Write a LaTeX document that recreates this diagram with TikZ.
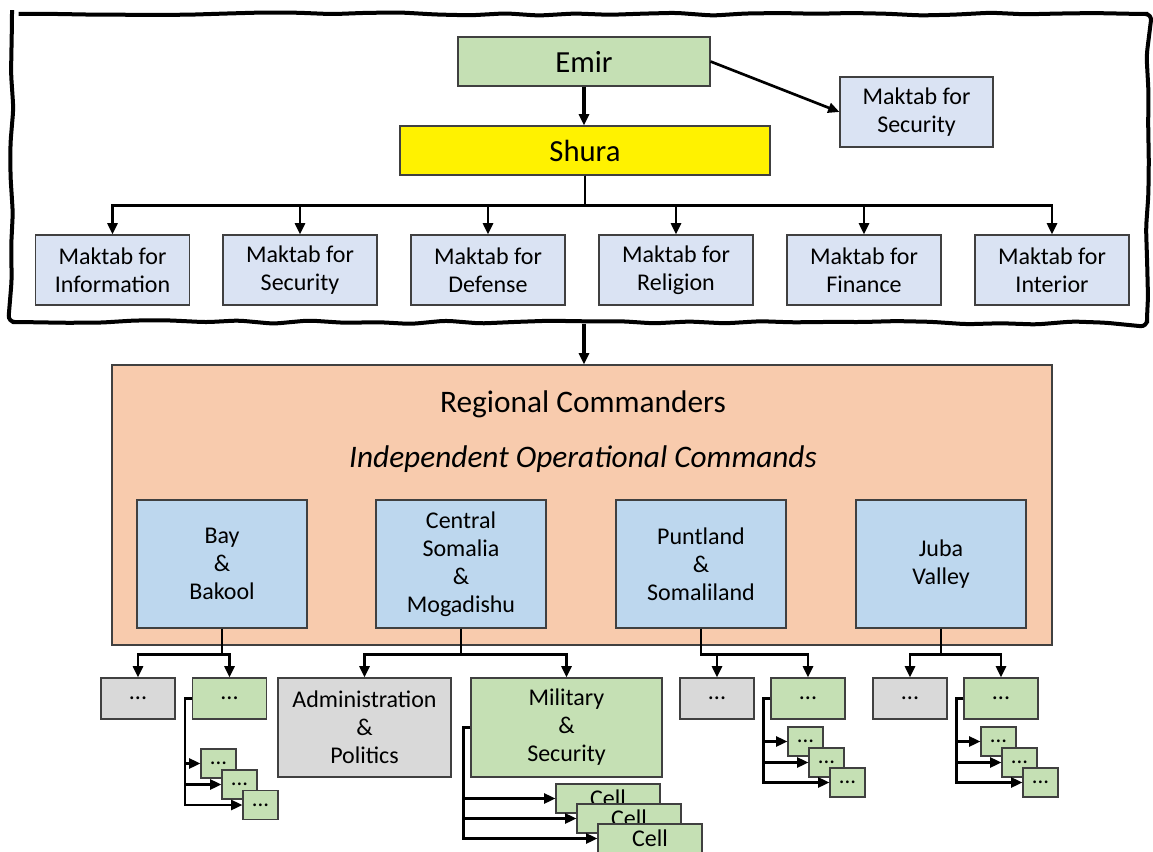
\documentclass[tikz,border=0pt]{standalone}
\usepackage{fontspec}
\setmainfont{Carlito}
\usetikzlibrary{arrows.meta,decorations.pathmorphing}
\definecolor{emirgreen}{HTML}{C5E0B4}
\definecolor{maktabblue}{HTML}{DAE3F3}
\definecolor{regpeach}{HTML}{F8CBAD}
\definecolor{cmdblue}{HTML}{BDD7EE}
\definecolor{boxgray}{HTML}{D9D9D9}
\tikzset{
  box/.style={draw=black!75, line width=0.8pt, align=center, inner sep=2pt,
    font=\fontsize{18}{21}\selectfont},
  maktab/.style={box, fill=maktabblue, minimum width=115.5pt, minimum height=52.5pt},
  cmd/.style={box, fill=cmdblue, minimum width=127.5pt, minimum height=96pt},
  smallgray/.style={box, fill=boxgray, minimum width=55.5pt, minimum height=30.75pt, font=\fontsize{18}{20}\selectfont},
  smallgreen/.style={smallgray, fill=emirgreen},
  tiny/.style={box, fill=emirgreen, minimum width=26.25pt, minimum height=21.75pt, inner sep=0pt, font=\fontsize{17}{18}\selectfont},
  cellbox/.style={box, fill=emirgreen, minimum width=78pt, minimum height=21.75pt, inner sep=0pt},
  conn/.style={line width=2pt, -{Triangle[length=8.5pt,width=7.5pt]}},
  frame/.style={line width=3pt, decorate,
    decoration={random steps, segment length=26pt, amplitude=1.4pt}, rounded corners=5pt}
}

\begin{document}
\begin{tikzpicture}[x=0.75pt, y=-0.75pt]
  \useasboundingbox (0,0) rectangle (1153,852);
  \clip (0,0) rectangle (1153,852);
  \pgfmathsetseed{11}

  % leadership
  \draw[frame] (12,14) -- (1148,14) -- (1147,323) -- (12,322) -- cycle;
  \coordinate (frameS) at (584,324);

  \node[box, fill=emirgreen, minimum width=189pt, minimum height=36.75pt,
    font=\fontsize{23}{27}\selectfont] (emir) at (584,61.5) {Emir};
  \node[box, fill=yellow, minimum width=277.5pt, minimum height=36.75pt,
    font=\fontsize{23}{27}\selectfont] (shura) at (585,150.5) {Shura};
  \node[maktab, minimum width=114.75pt] (msec) at (916.5,112) {Maktab for\\Security};

  \node[maktab] (m1) at (112.5,270) {Maktab for\\Information};
  \node[maktab] (m2) at (300,270) {Maktab for\\Security};
  \node[maktab] (m3) at (488,270) {Maktab for\\Defense};
  \node[maktab] (m4) at (676,270) {Maktab for\\Religion};
  \node[maktab] (m5) at (864,270) {Maktab for\\Finance};
  \node[maktab] (m6) at (1052,270) {Maktab for\\Interior};

  \draw[conn, line width=3pt] (emir) -- (emir |- shura.north);
  \draw[conn] (emir.east) -- (msec.west);
  \foreach \i in {1,...,6}
    \draw[conn] (shura.south) -- ++(0,30) -| (m\i.north);

  % regional commands
  \node[box, fill=regpeach, minimum width=705pt, minimum height=210pt] (reg) at (582,505) {};
  \node[font=\fontsize{23.5}{27}\selectfont] (regT) at (583,404) {Regional Commanders};
  \node[font=\fontsize{23.5}{27}\selectfont\itshape] (regI) at (583,459) {Independent Operational Commands};
  \draw[conn, line width=3pt] (frameS) -- (frameS |- reg.north);

  \node[cmd] (b1) at (222,564) {Bay\\\&\\Bakool};
  \node[cmd] (b2) at (461,564) {Central\\Somalia\\\&\\Mogadishu};
  \node[cmd] (b3) at (701,564) {Puntland\\\&\\Somaliland};
  \node[cmd] (b4) at (941,564) {Juba\\Valley};

  % sub units
  \node[smallgray] (a1) at (138,698.5) {...};
  \node[smallgreen] (g1) at (229.5,698.5) {...};
  \node[box, fill=boxgray, minimum width=129.75pt, minimum height=74.25pt] (a2) at (364.5,727.5) {Administration\\\&\\Politics};
  \node[box, fill=emirgreen, minimum width=143.25pt, minimum height=74.25pt] (g2) at (566.5,727.5) {Military\\\&\\Security};
  \node[smallgray] (a3) at (717,698.5) {...};
  \node[smallgreen] (g3) at (808,698.5) {...};
  \node[smallgray] (a4) at (910,698.5) {...};
  \node[smallgreen] (g4) at (1001,698.5) {...};

  \foreach \i in {1,...,4} {
    \draw[conn] (b\i.south) -- ++(0,26) -| (a\i.north);
    \draw[conn] (b\i.south) -- ++(0,26) -| (g\i.north);
  }

  \node[tiny] (t11) at (218.5,763.5) {...};
  \node[tiny] (t12) at (239.5,784.5) {...};
  \node[tiny] (t13) at (260.5,805) {...};
  \node[tiny] (t31) at (805.5,741.5) {...};
  \node[tiny] (t32) at (826.5,762.5) {...};
  \node[tiny] (t33) at (847.5,782.5) {...};
  \node[tiny] (t41) at (998.5,741.5) {...};
  \node[tiny] (t42) at (1019.5,762.5) {...};
  \node[tiny] (t43) at (1040.5,782.5) {...};
  \node[cellbox] (c1) at (608,798.5) {Cell};
  \node[cellbox] (c2) at (629,818.5) {Cell};
  \node[cellbox] (c3) at (650,838.5) {Cell};

  \foreach \g in {1,3,4}
    \foreach \t in {1,2,3}
      \draw[conn, line width=1.8pt] (g\g.west) -- ++(-7,0) |- (t\g\t.west);
  \foreach \t in {1,2,3}
    \draw[conn, line width=1.8pt] (g2.west) -- ++(-7,0) |- (c\t.west);
\end{tikzpicture}
\end{document}
